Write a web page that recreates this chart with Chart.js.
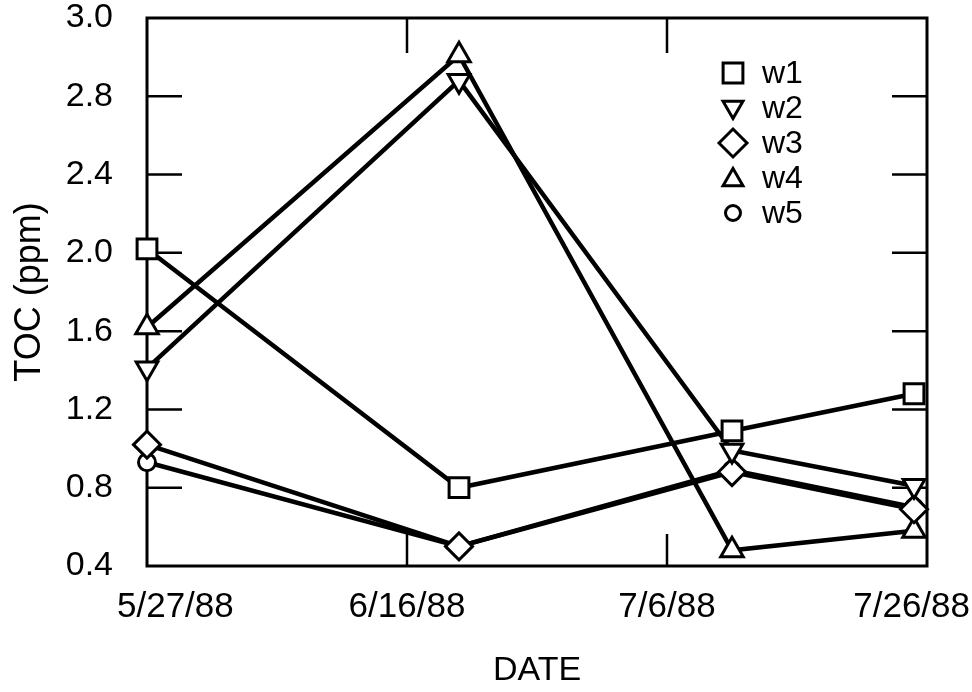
<!DOCTYPE html>
<html>
<head>
<meta charset="utf-8">
<script src="https://cdn.jsdelivr.net/npm/chart.js@4/dist/chart.umd.min.js"></script>
<style>
  body { margin: 0; background: #fff; }
  canvas { display: block; }
</style>
</head>
<body>
<canvas id="toc" width="972" height="692"></canvas>
<script>
// sampling dates and TOC values
const startDate = '1988-05-27';
const sampleDates = ['1988-06-20', '1988-07-11', '1988-07-25'];
const seriesNames = ['w1', 'w2', 'w3', 'w4', 'w5'];
const w1 = [2.02, 0.80, 1.09, 1.28];
const w2 = [1.41, 2.88, 0.99, 0.81];
const w3 = [1.02, 0.50, 0.88, 0.69];
const w4 = [1.62, 3.01, 0.48, 0.58];
const w5 = [0.93, 0.50, 0.89, 0.70];
const xTickLabels = ['5/27/88', '6/16/88', '7/6/88', '7/26/88'];
const yTickLabels = ['0.4', '0.8', '1.2', '1.6', '2.0', '2.4', '2.8', '3.0'];

const FONT = "'Liberation Sans', Arial, Helvetica, sans-serif";

const dayOf = d => (Date.parse(d) - Date.parse(startDate)) / 86400000;
const days = [startDate].concat(sampleDates).map(dayOf);

const styles = [
  { pointStyle: 'rect', radius: 14, rotation: 0 },
  { pointStyle: 'triangle', radius: 12.5, rotation: 180 },
  { pointStyle: 'rectRot', radius: 13.5, rotation: 0 },
  { pointStyle: 'triangle', radius: 13, rotation: 0 },
  { pointStyle: 'circle', radius: 8.5, rotation: 0 }
];

const allSeries = [w1, w2, w3, w4, w5];
const datasets = allSeries.map((vals, i) => ({
  label: seriesNames[i],
  data: vals.map((v, j) => ({ x: days[j], y: v })),
  borderColor: '#000',
  borderWidth: 4.5,
  pointStyle: styles[i].pointStyle,
  pointRadius: styles[i].radius,
  pointRotation: styles[i].rotation,
  pointBackgroundColor: '#fff',
  pointBorderColor: '#000',
  pointBorderWidth: 3,
  clip: false,
  tension: 0
}));

// frame, inward tick marks, x labels and the legend box
const framePlugin = {
  id: 'frame',
  beforeDatasetsDraw(chart) {
    const ctx = chart.ctx;
    const a = chart.chartArea;
    const xs = chart.scales.x, ys = chart.scales.y;
    const len = 35;
    ctx.save();
    ctx.strokeStyle = '#000';
    ctx.lineWidth = 2.5;
    ctx.beginPath();
    ys.ticks.forEach((t, i) => {
      if (i === 0 || i === ys.ticks.length - 1) return;
      const y = ys.getPixelForValue(t.value);
      ctx.moveTo(a.left, y); ctx.lineTo(a.left + len, y);
      ctx.moveTo(a.right, y); ctx.lineTo(a.right - len, y);
    });
    xs.ticks.forEach((t, i) => {
      if (i === 0 || i === xs.ticks.length - 1) return;
      const x = xs.getPixelForValue(t.value);
      ctx.moveTo(x, a.bottom); ctx.lineTo(x, a.bottom - len + 3);
      ctx.moveTo(x, a.top); ctx.lineTo(x, a.top + len);
    });
    ctx.stroke();
    ctx.lineWidth = 3;
    ctx.strokeRect(a.left, a.top, a.right - a.left, a.bottom - a.top);

    // x tick labels
    ctx.fillStyle = '#000';
    ctx.font = '35px ' + FONT;
    ctx.textBaseline = 'middle';
    xs.ticks.forEach((t, i) => {
      const x = xs.getPixelForValue(t.value);
      let dx = 0;
      ctx.textAlign = 'center';
      if (i === 0) { ctx.textAlign = 'left'; dx = -30; }
      if (i === xs.ticks.length - 1) { ctx.textAlign = 'right'; dx = 43; }
      ctx.fillText(xTickLabels[i], x + dx, a.bottom + 41);
    });

    // legend
    ctx.font = '32px ' + FONT;
    ctx.textAlign = 'left';
    chart.data.datasets.forEach((ds, i) => {
      const y = 73 + i * 35;
      const sx = 733;
      ctx.fillStyle = '#fff';
      ctx.strokeStyle = '#000';
      ctx.lineWidth = 3;
      if (Chart.helpers && Chart.helpers.drawPoint) {
        Chart.helpers.drawPoint(ctx, {
          pointStyle: ds.pointStyle,
          radius: ds.pointStyle === 'circle' ? 7.5 : ds.pointStyle === 'triangle' ? 11.5 : 14,
          rotation: ds.pointRotation,
          borderWidth: 3
        }, sx, y + (ds.pointStyle === 'triangle' ? (ds.pointRotation ? -1 : 2) : 0));
      }
      ctx.fillStyle = '#000';
      ctx.fillText(ds.label, 762, y + 1);
    });
    ctx.restore();
  }
};

new Chart(document.getElementById('toc'), {
  type: 'line',
  data: { datasets: datasets },
  options: {
    responsive: false,
    animation: false,
    devicePixelRatio: 1,
    layout: { padding: { top: 18, right: 45, left: 0, bottom: 0 } },
    plugins: {
      legend: { display: false },
      tooltip: { enabled: false }
    },
    scales: {
      x: {
        type: 'linear',
        min: 0,
        max: 60,
        ticks: { stepSize: 20, display: false },
        grid: { display: false },
        border: { display: false },
        title: {
          display: true,
          text: 'DATE',
          color: '#000',
          font: { family: FONT, size: 34 },
          padding: { top: 0, bottom: 1 }
        },
        afterFit(scale) { scale.height = 126; scale.paddingLeft = 0; scale.paddingRight = 0; }
      },
      y: {
        min: 0.4,
        max: 3.2,
        ticks: {
          stepSize: 0.4,
          padding: 34,
          color: '#000',
          font: { family: FONT, size: 34 },
          callback: v => yTickLabels[Math.round((v - 0.4) / 0.4)]
        },
        grid: { display: false, drawTicks: false },
        border: { display: false },
        title: {
          display: true,
          text: 'TOC (ppm)',
          color: '#000',
          font: { family: FONT, size: 36 },
          padding: { top: 8, bottom: 0 }
        },
        afterFit(scale) { scale.width = 147; scale.paddingTop = 0; scale.paddingBottom = 0; }
      }
    }
  },
  plugins: [framePlugin]
});
</script>
</body>
</html>
